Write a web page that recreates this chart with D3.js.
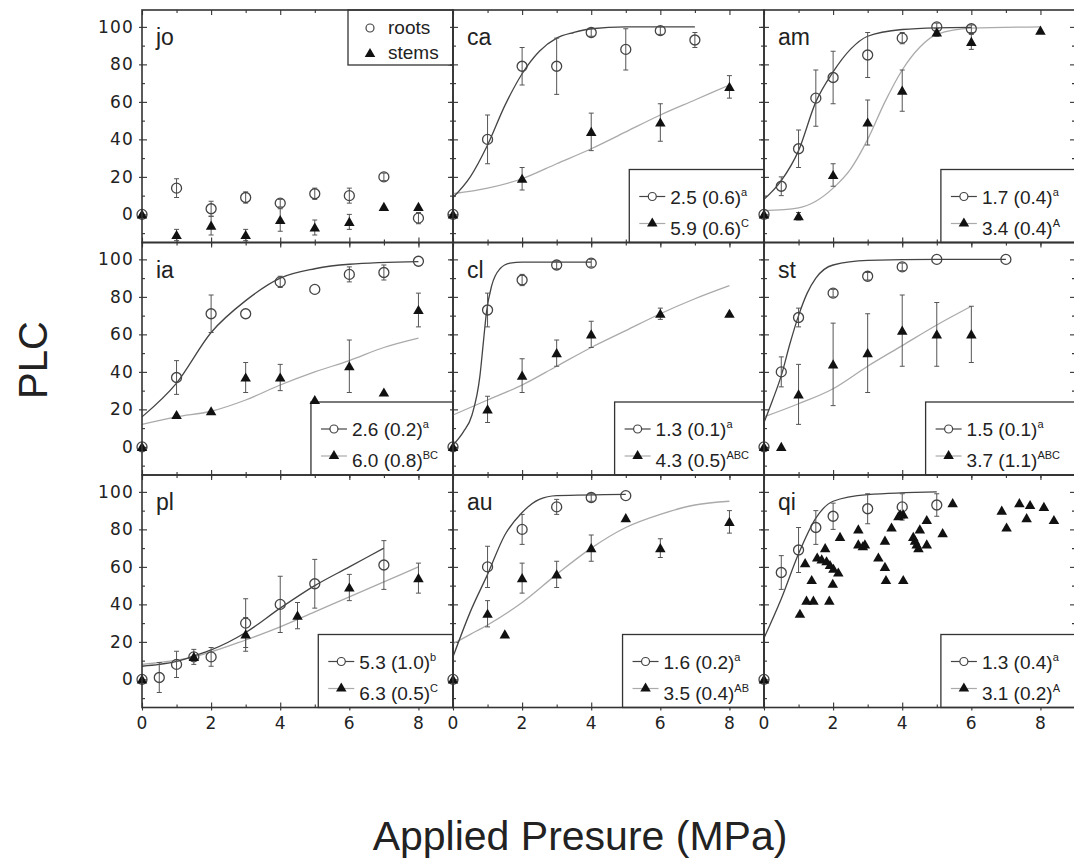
<!DOCTYPE html>
<html>
<head>
<meta charset="utf-8">
<script src="https://cdn.jsdelivr.net/npm/d3@7"></script>
<style>
body { margin: 0; background: #fff; }
svg { display: block; }
</style>
</head>
<body>
<svg id="chart" width="1074" height="859" font-family="Liberation Sans, Arial, sans-serif"></svg>
<script>
// panel names, in reading order
var panelNames = ["jo", "ca", "am", "ia", "cl", "st", "pl", "au", "qi"];

// measured points: [pressure, PLC, error]
var joRoots = [[0,0,0],[1,14,5],[2,3,4],[3,9,3],[4,6,2],[5,11,3],[6,10,4],[7,20,2],[8,-2,3]];
var joStems = [[0,0,0],[1,-11,3],[2,-6,5],[3,-11,3],[4,-3,6],[5,-7,4],[6,-4,4],[7,4,0],[8,4,0]];

var caRoots = [[0,0,0],[1,40,13],[2,79,10],[3,79,15],[4,97,2],[5,88,11],[6,98,2],[7,93,4]];
var caStems = [[0,0,0],[2,19,6],[4,44,10],[6,49,10],[8,68,6]];

var amRoots = [[0,0,0],[0.5,15,5],[1,35,10],[1.5,62,15],[2,73,14],[3,85,12],[4,94,3],[5,100,2],[6,99,2]];
var amStems = [[0,0,0],[1,-1,2],[2,21,6],[3,49,12],[4,66,11],[5,97,2],[6,92,4],[8,98,0]];

var iaRoots = [[0,0,0],[1,37,9],[2,71,10],[3,71,0],[4,88,3],[5,84,0],[6,92,4],[7,93,4],[8,99,0]];
var iaStems = [[0,0,0],[1,17,0],[2,19,0],[3,37,8],[4,37,7],[5,25,0],[6,43,14],[7,29,0],[8,73,9]];

var clRoots = [[0,0,0],[1,73,9],[2,89,3],[3,97,2],[4,98,2]];
var clStems = [[0,0,0],[1,20,7],[2,38,9],[3,50,7],[4,60,7],[6,71,3],[8,71,0]];

var stRoots = [[0,0,0],[0.5,40,8],[1,69,5],[2,82,2],[3,91,2],[4,96,2],[5,100,0],[7,100,0]];
var stStems = [[0,0,0],[0.5,0,0],[1,28,16],[2,44,22],[3,50,21],[4,62,19],[5,60,17],[6,60,15]];

var plRoots = [[0,0,0],[0.5,1,8],[1,8,7],[1.5,12,0],[2,12,5],[3,30,13],[4,40,15],[5,51,13],[7,61,13]];
var plStems = [[0,0,0],[1.5,12,4],[3,24,9],[4.5,34,7],[6,49,7],[8,54,8]];

var auRoots = [[0,0,0],[1,60,11],[2,80,8],[3,92,4],[4,97,2],[5,98,0]];
var auStems = [[0,0,0],[1,35,7],[1.5,24,0],[2,54,8],[3,56,7],[4,70,7],[5,86,0],[6,70,5],[8,84,6]];

var qiRoots = [[0,0,0],[0.5,57,9],[1,69,12],[1.5,81,9],[2,87,7],[3,91,8],[4,92,7],[5,93,6]];
var qiStems = [[0,0,0],[1.04,35,0],[1.19,62,0],[1.38,53,0],[1.23,42,0],[1.43,42,0],[1.89,42,0],
  [1.54,65,0],[1.67,64,0],[1.77,70,0],[1.81,63,0],[1.91,61,0],[2.01,59,0],[2.15,57,0],[1.99,51,0],
  [2.2,76,0],[2.73,80,0],[2.73,72,0],[2.92,72,0],[2.86,71,0],[3.31,65,0],[3.5,60,0],[3.53,53,0],
  [4.03,53,0],[3.5,74,0],[3.69,81,0],[3.89,87,0],[4.03,88,0],[3.94,88,0],[4.37,74,0],[4.42,72,0],
  [4.51,80,0],[4.71,85,0],[4.71,72,0],[4.47,70,0],[4.32,76,0],[5.17,78,0],[5.46,94,0],[6.88,90,0],
  [7.02,81,0],[7.39,94,0],[7.7,93,0],[7.6,86,0],[8.1,92,0],[8.39,85,0]];

// fitted curves: [pressure, PLC]
var caRootFit = [[0,9],[0.5,20],[1,37],[1.5,58],[2,75],[2.5,87],[3,94],[3.5,97],[4,99],[5,100],[7,100]];
var caStemFit = [[0,11],[1,14],[2,19],[3,27],[4,35],[5,44],[6,53],[7,61],[8,69]];
var amRootFit = [[0,8],[0.5,18],[1,34],[1.5,60],[2,76],[2.5,88],[3,95],[4,98.6],[5,99.5],[6,99.7]];
var amStemFit = [[0,2],[1,3.5],[1.5,7],[2,14],[2.5,24],[3,40],[3.5,60],[4,77],[4.5,89],[5,96],[6,99.3],[8,100]];
var iaRootFit = [[0,16],[1,34],[2,61],[3,78],[4,90],[5,95],[6,97.4],[8,98.8]];
var iaStemFit = [[0,12],[1,16],[2,19],[3,25],[4,33],[5,40],[6,46],[7,53],[8,58]];
var clRootFit = [[0,1],[0.3,8],[0.55,17],[0.78,38],[0.88,56],[0.97,72],[1.12,86],[1.36,95],[1.65,98],[2,98.5],[4,98.5]];
var clStemFit = [[0,17],[1,25],[2,33],[3,43],[4,53],[5,62],[6,71],[7,79],[8,86]];
var stRootFit = [[0,13],[0.25,25],[0.5,38],[0.75,55],[1,70],[1.25,82],[1.5,90],[2,97],[3,99.5],[5,100],[7,100]];
var stStemFit = [[0,16],[1,23],[2,31],[3,43],[4,54],[5,65],[6,75]];
var plRootFit = [[0,7],[0.5,8],[1,9.6],[1.5,12.5],[2,15.7],[3,25],[4,38],[5,50],[6,60],[7,70]];
var plStemFit = [[0,8],[1.5,12],[3,21],[4,28],[5,36],[6,44],[7,52],[8,60]];
var auRootFit = [[0,12],[0.5,36],[1,56],[1.5,77],[2,89],[2.5,96],[3,98],[5,98.7]];
var auStemFit = [[0,19],[0.5,24],[1,29],[2,41],[3,56],[4,70],[5,81],[6,88],[7,93],[8,95]];
var qiRootFit = [[0,22],[0.5,43],[1,67],[1.5,86],[2,95],[3,98.5],[5,100]];

// legend texts: P50 (SE) with significance letters
var rootLabels = ["", "2.5 (0.6)", "1.7 (0.4)", "2.6 (0.2)", "1.3 (0.1)", "1.5 (0.1)", "5.3 (1.0)", "1.6 (0.2)", "1.3 (0.4)"];
var rootSups   = ["", "a", "a", "a", "a", "a", "b", "a", "a"];
var stemLabels = ["", "5.9 (0.6)", "3.4 (0.4)", "6.0 (0.8)", "4.3 (0.5)", "3.7 (1.1)", "6.3 (0.5)", "3.5 (0.4)", "3.1 (0.2)"];
var stemSups   = ["", "C", "A", "BC", "ABC", "ABC", "C", "AB", "A"];

// tick values
var xMajor = [0, 2, 4, 6, 8];
var xMinor = [1, 3, 5, 7];
var yMajor = [0, 20, 40, 60, 80, 100];
var yMinor = [-10, 10, 30, 50, 70, 90];

var rootsAll = [joRoots, caRoots, amRoots, iaRoots, clRoots, stRoots, plRoots, auRoots, qiRoots];
var stemsAll = [joStems, caStems, amStems, iaStems, clStems, stStems, plStems, auStems, qiStems];
var rootFits = [null, caRootFit, amRootFit, iaRootFit, clRootFit, stRootFit, plRootFit, auRootFit, qiRootFit];
var stemFits = [null, caStemFit, amStemFit, iaStemFit, clStemFit, stStemFit, plStemFit, auStemFit, null];

var svg = d3.select("#chart");

// layout
var W = 311, H = 232.5;
var colLeft = [142, 453, 764];
var rowTop = [10, 242.5, 475];

var x = d3.scaleLinear().domain([0, 9]).range([0, W]);
var y = d3.scaleLinear().domain([-15, 109]).range([H, 0]);

var line = d3.line().x(function(d) { return x(d[0]); }).y(function(d) { return y(d[1]); })
  .curve(d3.curveMonotoneX);
var tri = d3.symbol().type(d3.symbolTriangle).size(48);

var rootColor = "#444", stemLine = "#aaa", ink = "#111", txt = "#222";

function styleAxis(sel) {
  sel.select(".domain").remove();
  sel.attr("color", "#333").attr("font-size", null).attr("font-family", null);
  sel.selectAll("line").attr("stroke-width", 1.1);
  sel.selectAll("text")
    .attr("font-family", "DejaVu Sans, sans-serif")
    .attr("font-size", 17)
    .attr("letter-spacing", 1.2)
    .attr("fill", txt);
}

panelNames.forEach(function(name, i) {
  var col = i % 3, row = Math.floor(i / 3);
  var g = svg.append("g").attr("transform", "translate(" + colLeft[col] + "," + rowTop[row] + ")");

  // axes (ticks point inward, on all four sides)
  var bx = g.append("g").attr("transform", "translate(0," + H + ")")
    .call(d3.axisBottom(x).tickValues(xMajor).tickSize(-5).tickPadding(9)
      .tickFormat(row == 2 ? d3.format("d") : ""));
  styleAxis(bx);
  bx.selectAll("line").attr("y1", 3);
  styleAxis(g.append("g").attr("transform", "translate(0," + H + ")")
    .call(d3.axisBottom(x).tickValues(xMinor).tickSize(-3).tickFormat("")));
  styleAxis(g.append("g").call(d3.axisTop(x).tickValues(xMajor).tickSize(-5).tickFormat("")));
  styleAxis(g.append("g").call(d3.axisTop(x).tickValues(xMinor).tickSize(-3).tickFormat("")));

  var ly = g.append("g")
    .call(d3.axisLeft(y).tickValues(yMajor).tickSize(-5).tickPadding(8)
      .tickFormat(col == 0 ? d3.format("d") : ""));
  styleAxis(ly);
  ly.selectAll("line").attr("x1", -3);
  styleAxis(g.append("g").call(d3.axisLeft(y).tickValues(yMinor).tickSize(-3).tickFormat("")));
  styleAxis(g.append("g").attr("transform", "translate(" + W + ",0)")
    .call(d3.axisRight(y).tickValues(yMajor).tickSize(-5).tickFormat("")));
  styleAxis(g.append("g").attr("transform", "translate(" + W + ",0)")
    .call(d3.axisRight(y).tickValues(yMinor).tickSize(-3).tickFormat("")));

  // legend (drawn under the marks)
  var lg = g.append("g");
  if (name == "jo") {
    var bw = 105, bh = 55, bl = W - bw;
    lg.append("rect").attr("x", bl).attr("y", 0).attr("width", bw).attr("height", bh)
      .attr("fill", "#fff").attr("stroke", "#333").attr("stroke-width", 1.3);
    lg.append("circle").attr("cx", bl + 22).attr("cy", 18).attr("r", 4)
      .attr("fill", "none").attr("stroke", rootColor).attr("stroke-width", 1.2);
    lg.append("path").attr("d", tri).attr("transform", "translate(" + (bl + 22) + ",44)").attr("fill", ink);
    lg.append("text").attr("x", bl + 40).attr("y", 24).attr("font-size", 19).attr("fill", txt).text("roots");
    lg.append("text").attr("x", bl + 40).attr("y", 49).attr("font-size", 19).attr("fill", txt).text("stems");
  } else {
    var items = [
      {label: rootLabels[i], sup: rootSups[i], root: true, ly: H - 46, ty: H - 39},
      {label: stemLabels[i], sup: stemSups[i], root: false, ly: H - 19, ty: H - 8}
    ];
    var box = lg.append("rect");
    var texts = lg.selectAll("text").data(items).join("text")
      .attr("y", function(d) { return d.ty; })
      .attr("font-size", 19).attr("fill", txt)
      .text(function(d) { return d.label; });
    texts.append("tspan").attr("dy", -8).attr("font-size", 11).text(function(d) { return d.sup; });
    var tw = d3.max(texts.nodes(), function(n) { return n.getComputedTextLength(); });
    var bw2 = tw + 41 + 15, bl2 = W - bw2;
    box.attr("x", bl2).attr("y", H - 73).attr("width", bw2).attr("height", 73)
      .attr("fill", "#fff").attr("stroke", "#333").attr("stroke-width", 1.3);
    texts.attr("x", bl2 + 41);
    lg.selectAll("line.key").data(items).join("line").attr("class", "key")
      .attr("x1", bl2 + 10).attr("x2", bl2 + 36)
      .attr("y1", function(d) { return d.ly; }).attr("y2", function(d) { return d.ly; })
      .attr("stroke", function(d) { return d.root ? rootColor : stemLine; }).attr("stroke-width", 1.2);
    lg.append("circle").attr("cx", bl2 + 23).attr("cy", items[0].ly).attr("r", 4)
      .attr("fill", "#fff").attr("stroke", rootColor).attr("stroke-width", 1.2);
    lg.append("path").attr("d", tri).attr("transform", "translate(" + (bl2 + 23) + "," + items[1].ly + ")")
      .attr("fill", ink);
  }

  // fitted curves
  if (stemFits[i]) {
    g.append("path").datum(stemFits[i]).attr("d", line)
      .attr("fill", "none").attr("stroke", stemLine).attr("stroke-width", 1.3);
  }
  if (rootFits[i]) {
    g.append("path").datum(rootFits[i]).attr("d", line)
      .attr("fill", "none").attr("stroke", rootColor).attr("stroke-width", 1.3);
  }

  // error bars
  var withErr = rootsAll[i].concat(stemsAll[i]).filter(function(d) { return d[2] > 0; });
  var eb = g.append("g").attr("stroke", "#555").attr("stroke-width", 1);
  eb.selectAll("line.v").data(withErr).join("line")
    .attr("x1", function(d) { return x(d[0]); }).attr("x2", function(d) { return x(d[0]); })
    .attr("y1", function(d) { return y(d[1] - d[2]); }).attr("y2", function(d) { return y(d[1] + d[2]); });
  eb.selectAll("line.t").data(withErr).join("line").attr("class", "t")
    .attr("x1", function(d) { return x(d[0]) - 2.5; }).attr("x2", function(d) { return x(d[0]) + 2.5; })
    .attr("y1", function(d) { return y(d[1] + d[2]); }).attr("y2", function(d) { return y(d[1] + d[2]); });
  eb.selectAll("line.b").data(withErr).join("line").attr("class", "b")
    .attr("x1", function(d) { return x(d[0]) - 2.5; }).attr("x2", function(d) { return x(d[0]) + 2.5; })
    .attr("y1", function(d) { return y(d[1] - d[2]); }).attr("y2", function(d) { return y(d[1] - d[2]); });

  // roots: open circles
  g.append("g").selectAll("circle").data(rootsAll[i]).join("circle")
    .attr("cx", function(d) { return x(d[0]); }).attr("cy", function(d) { return y(d[1]); })
    .attr("r", 5).attr("fill", "none").attr("stroke", rootColor).attr("stroke-width", 1.3);

  // stems: filled triangles
  g.append("g").selectAll("path").data(stemsAll[i]).join("path")
    .attr("d", tri)
    .attr("transform", function(d) { return "translate(" + x(d[0]) + "," + (y(d[1]) + 1) + ")"; })
    .attr("fill", ink);

  // frame
  g.append("rect").attr("width", W).attr("height", H)
    .attr("fill", "none").attr("stroke", "#333").attr("stroke-width", 1.6);

  // panel label
  g.append("text").attr("x", 14).attr("y", 35).attr("font-size", 23).attr("fill", txt).text(name);
});

// axis titles
svg.append("text").attr("transform", "translate(47,360) rotate(-90)")
  .attr("text-anchor", "middle").attr("font-size", 40).attr("fill", txt).text("PLC");
svg.append("text").attr("x", 580).attr("y", 850)
  .attr("text-anchor", "middle").attr("font-size", 41).attr("fill", txt).text("Applied Presure (MPa)");
</script>
</body>
</html>
